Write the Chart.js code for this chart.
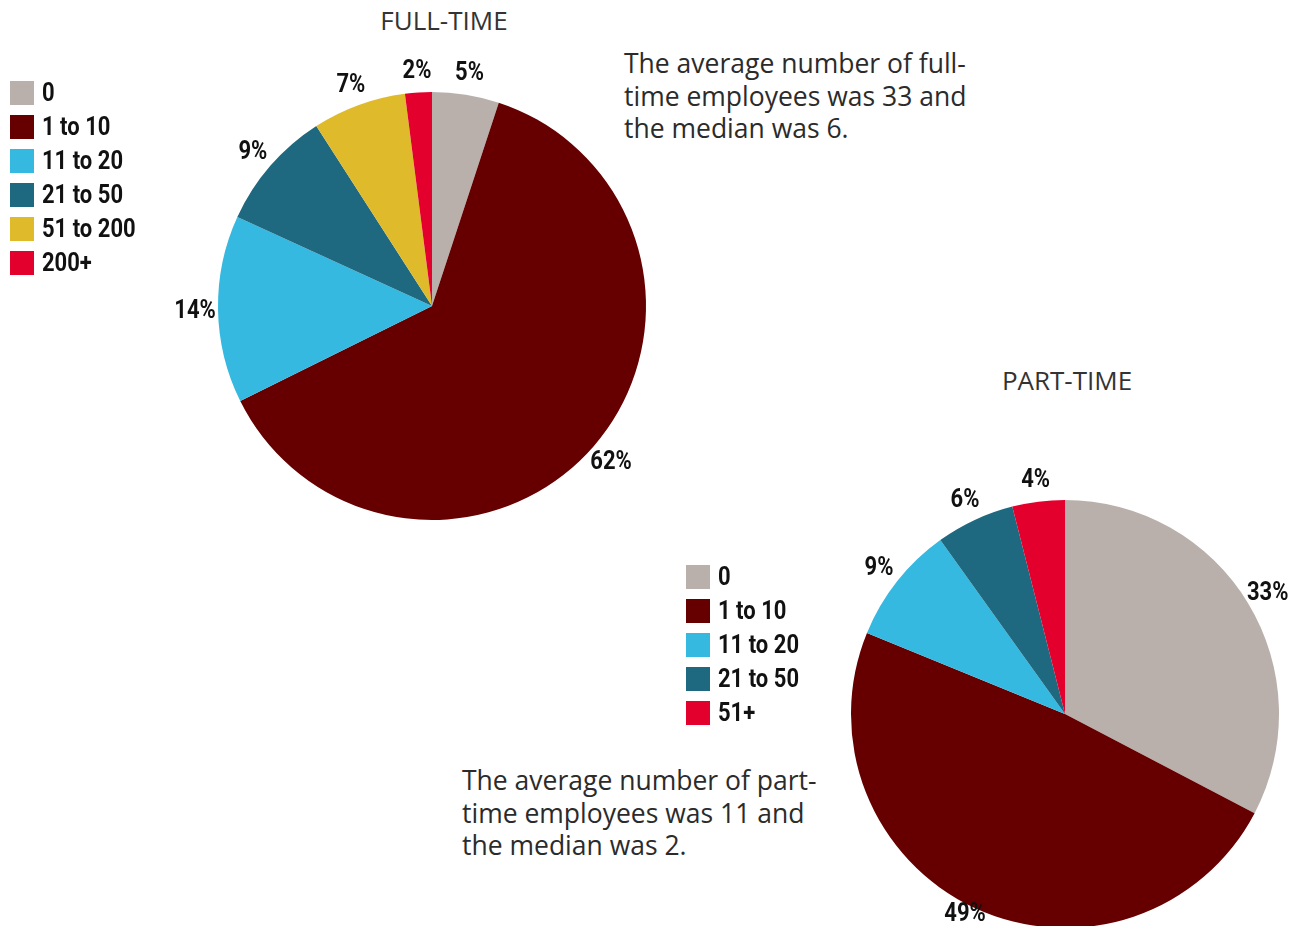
<!DOCTYPE html>
<html>
<head>
<meta charset="utf-8">
<script src="https://cdn.jsdelivr.net/npm/chart.js@4"></script>
<style>
  html, body { margin: 0; padding: 0; width: 1306px; height: 926px; overflow: hidden; background: #ffffff; }
  .cv { position: absolute; left: 0; top: 0; }
  .title { position: absolute; font-family: "Open Sans", sans-serif; font-size: 26px; line-height: normal; color: #333333; text-align: center; white-space: nowrap; transform: translateX(-50%); }
  .note { position: absolute; font-family: "Open Sans", sans-serif; font-size: 26.5px; line-height: 32.5px; color: #2b2b2b; white-space: nowrap; }
</style>
</head>
<body>
<div class="title" style="left:444px; top:2px;">FULL-TIME</div>
<div class="title" style="left:1067px; top:362px;">PART-TIME</div>
<div class="note" style="left:624px; top:47px;">The average number of full-<br>time employees was 33 and<br>the median was 6.</div>
<div class="note" style="left:462px; top:764px;">The average number of part-<br>time employees was 11 and<br>the median was 2.</div>
<canvas id="ft" class="cv" width="1306" height="926"></canvas>
<canvas id="pt" class="cv" width="1306" height="940"></canvas>
<script>
// ---- data ----
const ftCategories = ["0", "1 to 10", "11 to 20", "21 to 50", "51 to 200", "200+"];
const ftValues = [5, 62, 14, 9, 7, 2];
const ftColors = ["#b9b0ac", "#660000", "#36b9e0", "#1f6980", "#dfbb2c", "#e3002c"];

const ptCategories = ["0", "1 to 10", "11 to 20", "21 to 50", "51+"];
const ptValues = [33, 49, 9, 6, 4];
const ptColors = ["#b9b0ac", "#660000", "#36b9e0", "#1f6980", "#e3002c"];

const LABEL_FONT = 'bold 25px Roboto, "DejaVu Sans Condensed", sans-serif';
const CONDENSE = 0.88;

function condensedText(ctx, text, x, y) {
  ctx.save();
  ctx.translate(x, y);
  ctx.scale(CONDENSE, 1);
  ctx.fillText(text, 0, 0);
  ctx.restore();
}

const pctLabels = {
  id: 'pctLabels',
  afterDatasetsDraw(chart, args, opts) {
    const ctx = chart.ctx;
    const meta = chart.getDatasetMeta(0);
    const vals = chart.data.datasets[0].data;
    ctx.save();
    ctx.font = LABEL_FONT;
    ctx.fillStyle = '#111111';
    ctx.textAlign = 'center';
    ctx.textBaseline = 'middle';
    meta.data.forEach((arc, i) => {
      const p = arc.getProps(['x', 'y', 'startAngle', 'endAngle', 'outerRadius'], true);
      const mid = (p.startAngle + p.endAngle) / 2;
      const r = p.outerRadius + 23;
      let y = p.y + Math.sin(mid) * r + 2;
      if (opts.maxY) y = Math.min(y, opts.maxY);
      condensedText(ctx, vals[i] + '%', p.x + Math.cos(mid) * r, y);
    });
    ctx.restore();
  }
};

const boxLegend = {
  id: 'boxLegend',
  afterDraw(chart, args, opts) {
    const ctx = chart.ctx;
    const labels = chart.data.labels;
    const colors = chart.data.datasets[0].backgroundColor;
    ctx.save();
    ctx.font = LABEL_FONT;
    ctx.textBaseline = 'middle';
    ctx.textAlign = 'left';
    labels.forEach((lab, i) => {
      const y = opts.y + i * 34;
      ctx.fillStyle = colors[i];
      ctx.fillRect(opts.x, y - 12, 24, 24);
      ctx.fillStyle = '#111111';
      condensedText(ctx, lab, opts.x + 32, y + 1.5);
    });
    ctx.restore();
  }
};

function makePie(id, cats, vals, cols, padding, legendPos, maxY) {
  return new Chart(document.getElementById(id), {
    type: 'pie',
    data: {
      labels: cats,
      datasets: [{ data: vals, backgroundColor: cols, borderWidth: 0, hoverOffset: 0 }]
    },
    options: {
      responsive: false,
      animation: false,
      events: [],
      layout: { padding: padding },
      plugins: {
        legend: { display: false },
        tooltip: { enabled: false },
        boxLegend: legendPos,
        pctLabels: { maxY: maxY }
      }
    },
    plugins: [pctLabels, boxLegend]
  });
}

makePie('ft', ftCategories, ftValues, ftColors,
  { left: 218, right: 660, top: 92, bottom: 406 }, { x: 10, y: 93 }, null);
makePie('pt', ptCategories, ptValues, ptColors,
  { left: 851, right: 27, top: 500, bottom: 12 }, { x: 686, y: 577 }, 915);
</script>
</body>
</html>
